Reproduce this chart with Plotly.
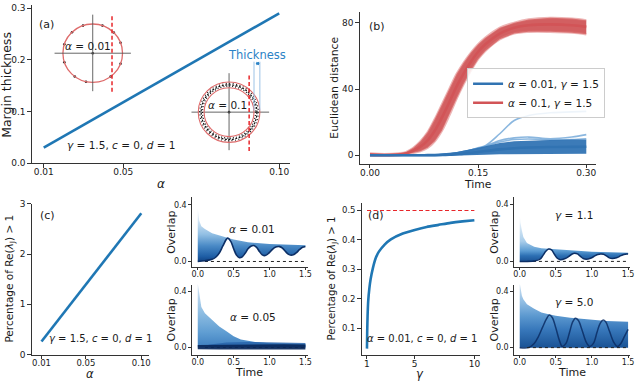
import numpy as np
import plotly.graph_objects as go

W, H = 640, 384
FONT = "DejaVu Sans"
INK = "#1a1a1a"
SPINE = "#333333"

# ---------------- (a) margin thickness ----------------
alpha_a = [0.01, 0.10]
thickness_a = [0.03, 0.29]
a_xtickvals = [0.01, 0.0404, 0.10]
a_xticktext = ["0.01", "0.05", "0.10"]
a_ytickvals = [0.0, 0.1, 0.2, 0.3]

# schematic insets of panel (a)
small_dot_angles = [71, 109, 134, 162, -162, -127, -103, -53, -21, 21, 45]
small_margin = 0.647
large_margin = 0.652
ring_inner = 0.81
ring_outer = 1.0

# ---------------- (b) euclidean distance ----------------
time_b = [0, 0.02, 0.04, 0.05, 0.06, 0.07, 0.08, 0.09, 0.10, 0.11, 0.12, 0.13,
          0.14, 0.15, 0.16, 0.18, 0.20, 0.22, 0.25, 0.28, 0.30]
red_upper = [1.2, 0.8, 1.2, 2.0, 4.5, 8.5, 14, 22, 31, 40, 49, 56, 62, 67, 71,
             77, 80, 82, 83, 82.5, 81.5]
red_lower = [-0.3, -0.3, 0.0, 0.5, 1.5, 2.5, 4.5, 8.5, 15, 24, 34, 43, 51, 58,
             63, 70, 73.5, 74.5, 74.5, 74, 73]
red_mid = [0.4, 0.2, 0.5, 1.1, 2.8, 5.2, 9.0, 15, 23, 32, 41.5, 49.5, 56.5, 62.5,
           67, 73.5, 77, 78.5, 79, 78.5, 77.5]
blue_upper = [0.3, 0.3, 0.3, 0.4, 0.5, 0.6, 0.7, 0.8, 1.0, 1.5, 2.0, 2.7, 3.5,
              4.5, 5.5, 7.5, 8.5, 9.0, 9.3, 9.5, 9.5]
blue_lower = [-0.6, -0.6, -0.6, -0.6, -0.6, -0.6, -0.6, -0.6, -0.5, -0.4, -0.3,
              -0.2, 0.0, 0.2, 0.4, 0.6, 0.8, 0.9, 1.0, 1.0, 1.0]
blue_mid = [0.0, 0.0, 0.0, 0.0, 0.0, 0.0, 0.1, 0.1, 0.2, 0.4, 0.7, 1.0, 1.5, 2.0,
            2.6, 3.6, 4.3, 4.7, 5.0, 5.1, 5.2]
blue_out1 = [0.0, 0.0, 0.0, 0.0, 0.0, 0.0, 0.1, 0.2, 0.4, 0.8, 1.4, 2.2, 3.2,
             4.5, 5.8, 13, 21, 24, 25.7, 26.2, 26.5]
blue_out2 = [0.0, 0.0, 0.0, 0.0, 0.0, 0.0, 0.1, 0.2, 0.4, 0.8, 1.4, 2.2, 3.2,
             4.3, 5.5, 9.0, 10.5, 11.0, 10.0, 11.0, 12.5]
blue_out3 = [0.0, 0.0, 0.0, 0.0, 0.0, 0.0, 0.1, 0.2, 0.4, 0.8, 1.3, 2.0, 3.0,
             4.0, 5.2, 8.0, 9.5, 9.8, 9.3, 9.5, 10.0]

# ---------------- (c) percentage vs alpha ----------------
alpha_c = [0.01, 0.10]
pct_c = [0.26, 2.81]

# ---------------- (d) percentage vs gamma ----------------
gamma_d = [1.0, 1.02, 1.05, 1.1, 1.2, 1.3, 1.5, 1.75, 2.0, 2.5, 3.0, 4.0, 5.0,
           6.0, 7.0, 8.0, 9.0, 10.0]
pct_d = [0.03, 0.09, 0.14, 0.19, 0.235, 0.265, 0.305, 0.34, 0.36, 0.385, 0.402,
         0.422, 0.434, 0.444, 0.451, 0.458, 0.463, 0.467]
gamma_limit = [1.0, 10.0]
pct_limit = [0.5, 0.5]

# ---------------- overlap insets ----------------
base_t = [0.1, 1.5]
base_y = [0.0, 0.0]
zero_t = [0.0, 1.5]
zero_y = [0.0, 0.0]

ct_env_t = [0, 0.01, 0.02, 0.05, 0.1, 0.2, 0.3, 0.4, 0.5, 0.7, 1.0, 1.25, 1.5]
ct_env_y = [0.38, 0.33, 0.29, 0.25, 0.229, 0.2, 0.183, 0.17, 0.155, 0.136,
            0.123, 0.118, 0.114]
ct_osc_t = [0, 0.1, 0.2, 0.25, 0.3, 0.35, 0.4, 0.42, 0.46, 0.5, 0.54, 0.58,
            0.62, 0.66, 0.7, 0.74, 0.78, 0.82, 0.86, 0.9, 0.94, 0.98, 1.02,
            1.06, 1.1, 1.14, 1.18, 1.22, 1.26, 1.3, 1.34, 1.38, 1.42, 1.46, 1.5]
ct_osc_y = [0.0, 0.005, 0.015, 0.03, 0.06, 0.11, 0.158, 0.165, 0.142, 0.09,
            0.045, 0.027, 0.033, 0.058, 0.09, 0.108, 0.113, 0.1, 0.07, 0.047,
            0.042, 0.055, 0.075, 0.095, 0.104, 0.105, 0.095, 0.072, 0.052,
            0.045, 0.05, 0.065, 0.085, 0.1, 0.106]

cb_env_t = [0, 0.01, 0.02, 0.05, 0.1, 0.2, 0.3, 0.4, 0.5, 0.6, 0.7, 0.8, 1.0,
            1.2, 1.5]
cb_env_y = [0.46, 0.42, 0.37, 0.29, 0.244, 0.198, 0.151, 0.116, 0.081, 0.058,
            0.047, 0.04, 0.03, 0.026, 0.023]
cb_dark_t = [0, 0.3, 0.6, 0.9, 1.2, 1.5]
cb_dark_hi = [0.018, 0.02, 0.022, 0.026, 0.024, 0.022]
cb_dark_lo = [-0.012, -0.014, -0.014, -0.015, -0.014, -0.014]
cb_mid_t = [0.15, 0.4, 0.7, 1.0, 1.3, 1.5]
cb_mid_hi = [0.02, 0.035, 0.04, 0.038, 0.036, 0.032]
cb_mid_lo = [0.0, 0.0, 0.0, 0.0, 0.0, 0.0]

dt_env_t = [0, 0.01, 0.03, 0.05, 0.1, 0.15, 0.2, 0.3, 0.5, 0.7, 1.0, 1.25, 1.5]
dt_env_y = [0.33, 0.27, 0.215, 0.17, 0.129, 0.113, 0.102, 0.092, 0.084, 0.076,
            0.068, 0.064, 0.061]
dt_osc_t = [0, 0.2, 0.28, 0.32, 0.36, 0.4, 0.44, 0.48, 0.52, 0.56, 0.62, 0.68,
            0.72, 0.76, 0.8, 0.84, 0.88, 0.92, 0.98, 1.04, 1.08, 1.12, 1.16,
            1.2, 1.24, 1.28, 1.34, 1.4, 1.44, 1.48, 1.5]
dt_osc_y = [0, 0.003, 0.015, 0.04, 0.07, 0.086, 0.08, 0.05, 0.022, 0.012,
            0.018, 0.035, 0.05, 0.057, 0.052, 0.035, 0.02, 0.015, 0.022, 0.038,
            0.048, 0.052, 0.05, 0.038, 0.025, 0.02, 0.025, 0.04, 0.048, 0.052,
            0.052]

db_env_t = [0, 0.01, 0.03, 0.05, 0.1, 0.2, 0.3, 0.4, 0.5, 0.7, 1.0, 1.2, 1.5]
db_env_y = [0.46, 0.42, 0.37, 0.345, 0.31, 0.277, 0.25, 0.238, 0.227, 0.213,
            0.2, 0.19, 0.185]
db_osc_t = [0, 0.12, 0.2, 0.26, 0.32, 0.37, 0.41, 0.45, 0.5, 0.55, 0.59, 0.64,
            0.69, 0.73, 0.77, 0.81, 0.86, 0.92, 0.97, 1.02, 1.07, 1.11, 1.15,
            1.19, 1.24, 1.3, 1.35, 1.4, 1.45, 1.5]
db_osc_y = [0, 0.0, 0.03, 0.08, 0.15, 0.205, 0.232, 0.215, 0.14, 0.05, 0.008,
            0.03, 0.11, 0.18, 0.21, 0.195, 0.13, 0.04, 0.008, 0.03, 0.11, 0.17,
            0.196, 0.185, 0.12, 0.04, 0.008, 0.03, 0.08, 0.13]


# ---------------- helpers ----------------
def dx(x0, x1):
    return [x0 / W, x1 / W]


def dy(top, bottom):
    return [1 - bottom / H, 1 - top / H]


def axis(domain, rng, anchor, size=9, ticklen=3.5, standoff=0, **kw):
    d = dict(domain=domain, range=rng, anchor=anchor, showline=True,
             linecolor=SPINE, linewidth=1, ticks="outside", ticklen=ticklen,
             tickwidth=1, tickcolor=SPINE, showgrid=False, zeroline=False,
             fixedrange=True, ticklabelstandoff=int(standoff),
             tickfont=dict(family=FONT, size=size, color=INK))
    d.update(kw)
    return d


def hidden(domain, rng, anchor):
    return dict(domain=domain, range=rng, anchor=anchor, visible=False,
                fixedrange=True, showgrid=False, zeroline=False)


def ann(text, x, y, size=10, color=INK, angle=0, xanchor="center"):
    return dict(text=text, x=x / W, y=1 - y / H, xref="paper", yref="paper",
                showarrow=False, textangle=angle, xanchor=xanchor,
                yanchor="middle", font=dict(family=FONT, size=size, color=color))


def polygon(t_up, y_up, t_lo, y_lo):
    return list(t_up) + list(t_lo)[::-1], list(y_up) + list(y_lo)[::-1]


def grad(cs, start, stop):
    return dict(type="vertical", colorscale=cs, start=start, stop=stop)


fig = go.Figure()

# ---- (a)
fig.add_trace(go.Scatter(x=alpha_a, y=thickness_a, mode="lines",
                         line=dict(color="#1f77b4", width=2.6),
                         xaxis="x", yaxis="y", showlegend=False))

ang = np.deg2rad(small_dot_angles)
fig.add_trace(go.Scatter(x=list(np.cos(ang)) + [0], y=list(np.sin(ang)) + [0],
                         mode="markers", marker=dict(color="#222", size=2.6),
                         xaxis="x9", yaxis="y9", showlegend=False))
fig.add_trace(go.Scatter(x=[0], y=[0], mode="markers",
                         marker=dict(color="#222", size=2.6),
                         xaxis="x10", yaxis="y10", showlegend=False))

# ---- (b)
px, py = polygon(time_b, red_upper, time_b, red_lower)
fig.add_trace(go.Scatter(x=px, y=py, fill="toself", mode="lines",
                         line=dict(width=0), fillcolor="rgba(208,86,88,0.95)",
                         xaxis="x2", yaxis="y2", showlegend=False))
for edge in (red_upper, red_lower):
    fig.add_trace(go.Scatter(x=time_b, y=edge, mode="lines",
                             line=dict(color="rgba(222,120,120,0.55)", width=2.2, shape="spline"),
                             xaxis="x2", yaxis="y2", showlegend=False))
fig.add_trace(go.Scatter(x=time_b, y=red_mid, mode="lines", name="<i>α</i> = 0.1, <i>γ</i> = 1.5",
                         line=dict(color="#d25457", width=2.6, shape="spline"),
                         xaxis="x2", yaxis="y2", legendrank=2))
for out in (blue_out1, blue_out2, blue_out3):
    fig.add_trace(go.Scatter(x=time_b, y=out, mode="lines",
                             line=dict(color="rgba(110,165,215,0.8)", width=1.6, shape="spline"),
                             xaxis="x2", yaxis="y2", showlegend=False))
px, py = polygon(time_b, blue_upper, time_b, blue_lower)
fig.add_trace(go.Scatter(x=px, y=py, fill="toself", mode="lines",
                         line=dict(width=0), fillcolor="rgba(50,116,180,0.95)",
                         xaxis="x2", yaxis="y2", showlegend=False))
fig.add_trace(go.Scatter(x=time_b, y=blue_mid, mode="lines", name="<i>α</i> = 0.01, <i>γ</i> = 1.5",
                         line=dict(color="#3173b2", width=2.6, shape="spline"),
                         xaxis="x2", yaxis="y2", legendrank=1))

# ---- (c)
fig.add_trace(go.Scatter(x=alpha_c, y=pct_c, mode="lines",
                         line=dict(color="#1f77b4", width=2.6),
                         xaxis="x3", yaxis="y3", showlegend=False))

# ---- (d)
fig.add_trace(go.Scatter(x=gamma_limit, y=pct_limit, mode="lines",
                         line=dict(color="#e8262a", width=1.2, dash="4px,2.5px"),
                         xaxis="x4", yaxis="y4", showlegend=False))
fig.add_trace(go.Scatter(x=gamma_d, y=pct_d, mode="lines",
                         line=dict(color="#1f77b4", width=2.6, shape="spline", smoothing=0.6),
                         xaxis="x4", yaxis="y4", showlegend=False))

# ---- overlap insets
# c-top
px, py = polygon(ct_env_t, ct_env_y, ct_osc_t, ct_osc_y)
fig.add_trace(go.Scatter(x=px, y=py, fill="toself", mode="lines", line=dict(width=0),
                         fillcolor="#5b9bd5",
                         fillgradient=grad([[0, "#0b3a7a"], [0.12, "#1f5fa6"], [0.3, "#4a8ac6"],
                                            [0.5, "#93c0e4"], [0.75, "#d8e8f6"], [1, "#ffffff"]], 0, 0.4),
                         xaxis="x5", yaxis="y5", showlegend=False))
fig.add_trace(go.Scatter(x=base_t, y=base_y, mode="lines",
                         line=dict(color="#222", width=1, dash="dot"),
                         xaxis="x5", yaxis="y5", showlegend=False))
fig.add_trace(go.Scatter(x=ct_osc_t, y=ct_osc_y, mode="lines",
                         line=dict(color="#0c2f66", width=1.6, shape="spline"),
                         xaxis="x5", yaxis="y5", showlegend=False))

# c-bottom
px, py = polygon(cb_env_t, cb_env_y, zero_t, zero_y)
fig.add_trace(go.Scatter(x=px, y=py, fill="toself", mode="lines", line=dict(width=0),
                         fillcolor="#7fb2dd",
                         fillgradient=grad([[0, "#3a7bbd"], [0.25, "#5f9dd2"], [0.55, "#8ebde2"],
                                            [1, "#d9e8f6"]], 0, 0.46),
                         xaxis="x6", yaxis="y6", showlegend=False))
px, py = polygon(cb_mid_t, cb_mid_hi, cb_mid_t, cb_mid_lo)
fig.add_trace(go.Scatter(x=px, y=py, fill="toself", mode="lines", line=dict(width=0),
                         fillcolor="rgba(40,100,170,0.85)",
                         xaxis="x6", yaxis="y6", showlegend=False))
fig.add_trace(go.Scatter(x=base_t, y=base_y, mode="lines",
                         line=dict(color="#222", width=1, dash="dot"),
                         xaxis="x6", yaxis="y6", showlegend=False))
px, py = polygon(cb_dark_t, cb_dark_hi, cb_dark_t, cb_dark_lo)
fig.add_trace(go.Scatter(x=px, y=py, fill="toself", mode="lines", line=dict(width=0),
                         fillcolor="rgba(10,40,90,0.92)",
                         xaxis="x6", yaxis="y6", showlegend=False))

# d-top
px, py = polygon(dt_env_t, dt_env_y, dt_osc_t, dt_osc_y)
fig.add_trace(go.Scatter(x=px, y=py, fill="toself", mode="lines", line=dict(width=0),
                         fillcolor="#5b9bd5",
                         fillgradient=grad([[0, "#154a8c"], [0.15, "#2c6fb3"], [0.25, "#5a9bd2"],
                                            [0.45, "#a9cdea"], [1, "#ffffff"]], 0, 0.33),
                         xaxis="x7", yaxis="y7", showlegend=False))
fig.add_trace(go.Scatter(x=base_t, y=base_y, mode="lines",
                         line=dict(color="#222", width=1, dash="dot"),
                         xaxis="x7", yaxis="y7", showlegend=False))
fig.add_trace(go.Scatter(x=dt_osc_t, y=dt_osc_y, mode="lines",
                         line=dict(color="#0c2f66", width=1.5, shape="spline"),
                         xaxis="x7", yaxis="y7", showlegend=False))

# d-bottom
px, py = polygon(db_env_t, db_env_y, zero_t, zero_y)
fig.add_trace(go.Scatter(x=px, y=py, fill="toself", mode="lines", line=dict(width=0),
                         fillcolor="#4a8ac6",
                         fillgradient=grad([[0, "#174f91"], [0.3, "#3878bb"], [0.5, "#5b98cf"],
                                            [0.7, "#8dbbe2"], [1, "#d4e5f4"]], 0, 0.46),
                         xaxis="x8", yaxis="y8", showlegend=False))
fig.add_trace(go.Scatter(x=db_osc_t, y=db_osc_y, mode="lines",
                         line=dict(color="rgba(10,45,100,0.85)", width=1.5, shape="spline"),
                         xaxis="x8", yaxis="y8", showlegend=False))
fig.add_trace(go.Scatter(x=base_t, y=base_y, mode="lines",
                         line=dict(color="#222", width=1, dash="dot"),
                         xaxis="x8", yaxis="y8", showlegend=False))

# ---------------- layout ----------------
INSET = dict(size=8, ticklen=2.5)
layout = dict(
    width=W, height=H, autosize=False,
    margin=dict(l=0, r=0, t=0, b=0),
    paper_bgcolor="white", plot_bgcolor="rgba(0,0,0,0)",
    font=dict(family=FONT, color=INK),
    legend=dict(x=470 / W, y=1 - 65 / H, xanchor="left", yanchor="top",
                bgcolor="rgba(255,255,255,0.85)", bordercolor="#cccccc", borderwidth=1,
                font=dict(family=FONT, size=10.5, color=INK), itemwidth=30,
                tracegroupgap=0),
    xaxis=axis(dx(32, 292), [0.00544, 0.1042], "y", standoff=-3,
               tickvals=a_xtickvals, ticktext=a_xticktext),
    yaxis=axis(dy(0, 162.3), [0, 0.306], "x", tickvals=a_ytickvals, tickformat=".1f"),
    xaxis2=axis(dx(362, 600), [-0.0142, 0.3138], "y2", standoff=-3,
                tickvals=[0, 0.15, 0.30], tickformat=".2f"),
    yaxis2=axis(dy(7, 163), [-5.1, 86.6], "x2", tickvals=[0, 40, 80]),
    xaxis3=axis(dx(32, 150), [0.00126, 0.107], "y3", standoff=-3, size=8.5,
                tickvals=[0.01, 0.05, 0.10], tickformat=".2f"),
    yaxis3=axis(dy(204, 359), [0, 3], "x3", tickvals=[0, 1, 2, 3]),
    xaxis4=axis(dx(364, 483), [0.56, 10.47], "y4", standoff=-3, tickvals=[1, 5, 10]),
    yaxis4=axis(dy(203, 359), [0.0095, 0.5265], "x4", size=8.5,
                tickvals=[0.1, 0.2, 0.3, 0.4, 0.5], tickformat=".1f"),
    xaxis5=axis(dx(193, 310), [-0.083, 1.537], "y5", standoff=-3,
                tickvals=[0, 0.5, 1.0, 1.5], tickformat=".1f", **INSET),
    yaxis5=axis(dy(197, 269), [-0.039, 0.457], "x5", tickvals=[0, 0.4], tickformat=".1f", **INSET),
    xaxis6=axis(dx(193, 310), [-0.083, 1.537], "y6", standoff=-3,
                tickvals=[0, 0.5, 1.0, 1.5], tickformat=".1f", **INSET),
    yaxis6=axis(dy(287, 359), [-0.051, 0.45], "x6", tickvals=[0, 0.4], tickformat=".1f", **INSET),
    xaxis7=axis(dx(517, 634), [-0.0825, 1.527], "y7", standoff=-3,
                tickvals=[0, 0.5, 1.0, 1.5], tickformat=".1f", **INSET),
    yaxis7=axis(dy(197, 269), [-0.039, 0.45], "x7", tickvals=[0, 0.4], tickformat=".1f", **INSET),
    xaxis8=axis(dx(517, 634), [-0.0825, 1.527], "y8", standoff=-3,
                tickvals=[0, 0.5, 1.0, 1.5], tickformat=".1f", **INSET),
    yaxis8=axis(dy(287, 359), [-0.05, 0.45], "x8", tickvals=[0, 0.4], tickformat=".1f", **INSET),
    xaxis9=hidden(dx(51.3, 135.3), [-1.4, 1.4], "y9"),
    yaxis9=hidden(dy(7.5, 91.5), [-1.4, 1.4], "x9"),
    xaxis10=hidden(dx(185.5, 290), [-1.4516, 1.9194], "y10"),
    yaxis10=hidden(dy(40, 155), [-1.4516, 2.258], "x10"),
)
fig.update_layout(**layout)

# ---- schematic shapes of panel (a)
RED_C = "#de6b6b"
CROSS = "#555555"
DASH_RED = "#e8262a"
shapes = []
shapes.append(dict(type="circle", xref="x9", yref="y9", x0=-1, x1=1, y0=-1, y1=1,
                   line=dict(color=RED_C, width=1.3)))
shapes.append(dict(type="line", xref="x9", yref="y9", x0=-1.28, x1=1.28, y0=0, y1=0,
                   line=dict(color=CROSS, width=0.9)))
shapes.append(dict(type="line", xref="x9", yref="y9", x0=0, x1=0, y0=-1.3, y1=1.32,
                   line=dict(color=CROSS, width=0.9)))
shapes.append(dict(type="line", xref="x9", yref="y9", x0=small_margin, x1=small_margin,
                   y0=-1.32, y1=1.32, line=dict(color=DASH_RED, width=1.5, dash="4px,2.5px")))
shapes.append(dict(type="line", xref="x10", yref="y10", x0=-1.22, x1=1.30, y0=0, y1=0,
                   line=dict(color=CROSS, width=0.9)))
shapes.append(dict(type="line", xref="x10", yref="y10", x0=0, x1=0, y0=-1.26, y1=1.29,
                   line=dict(color=CROSS, width=0.9)))
for r, dash in ((0.86, "1px,2px"), (0.905, "2px,1.5px"), (0.95, "1px,2.5px")):
    shapes.append(dict(type="circle", xref="x10", yref="y10", x0=-r, x1=r, y0=-r, y1=r,
                       line=dict(color="#111", width=1.2, dash=dash)))
for r in (ring_inner, ring_outer):
    shapes.append(dict(type="circle", xref="x10", yref="y10", x0=-r, x1=r, y0=-r, y1=r,
                       line=dict(color=RED_C, width=1.1)))
shapes.append(dict(type="line", xref="x10", yref="y10", x0=large_margin, x1=large_margin,
                   y0=-1.29, y1=1.29, line=dict(color=DASH_RED, width=1.5, dash="4px,2.5px")))
for xv in (ring_inner, ring_outer):
    shapes.append(dict(type="line", xref="x10", yref="y10", x0=xv, x1=xv, y0=0.05, y1=1.67,
                       line=dict(color="#9cc3e6", width=1)))
fig.update_layout(shapes=shapes)

TH_BLUE = "#2b83c6"
annotations = [
    dict(x=ring_outer, y=1.61, ax=ring_inner, ay=1.61, xref="x10", yref="y10",
         axref="x10", ayref="y10", showarrow=True, arrowside="end+start", arrowhead=2,
         arrowsize=0.7, arrowwidth=1, arrowcolor=TH_BLUE, text=""),
    ann("Thickness", 259, 51.7, size=11.5, color=TH_BLUE),
    ann("(a)", 47, 20, size=11),
    ann("<i>α</i> = 0.01", 89, 41.7, size=10.5),
    ann("<i>α</i> = 0.1", 229, 102.7, size=10.5),
    ann("<i>γ</i> = 1.5, <i>c</i> = 0, <i>d</i> = 1", 122, 144, size=10.5),
    ann("Margin thickness", 7, 82, size=12.5, angle=-90),
    ann("<i>α</i>", 162, 184, size=12),
    ann("(b)", 379, 22, size=11),
    ann("Euclidean distance", 337, 85, size=10.8, angle=-90),
    ann("Time", 481, 184, size=10.8),
    ann("(c)", 48, 216, size=11),
    ann("<i>γ</i> = 1.5, <i>c</i> = 0, <i>d</i> = 1", 101, 342, size=10),
    ann("Percentage of Re(<i>λ</i><sub>J</sub>) > 1", 10, 281, size=10.5, angle=-90),
    ann("<i>α</i>", 91, 379, size=11.5),
    ann("(d)", 378, 216, size=11),
    ann("<i>α</i> = 0.01, <i>c</i> = 0, <i>d</i> = 1", 425, 342, size=10),
    ann("Percentage of Re(<i>λ</i><sub>J</sub>) > 1", 335, 281, size=10.2, angle=-90),
    ann("<i>γ</i>", 423, 379, size=11.5),
    ann("<i>α</i> = 0.01", 254, 230, size=10.5),
    ann("<i>α</i> = 0.05", 255, 320, size=10.5),
    ann("<i>γ</i> = 1.1", 578, 216, size=10.5),
    ann("<i>γ</i> = 5.0", 578, 305, size=10.5),
    ann("Overlap", 173, 233, size=11, angle=-90),
    ann("Overlap", 173, 323, size=11, angle=-90),
    ann("Overlap", 498, 233, size=11, angle=-90),
    ann("Overlap", 498, 323, size=11, angle=-90),
    ann("Time", 251, 377, size=11),
    ann("Time", 576, 377, size=11),
]
fig.update_layout(annotations=annotations)

fig.write_html("out.html", config={"displayModeBar": False},
               post_script="document.body.style.margin='0px';document.body.style.overflow='hidden';")
